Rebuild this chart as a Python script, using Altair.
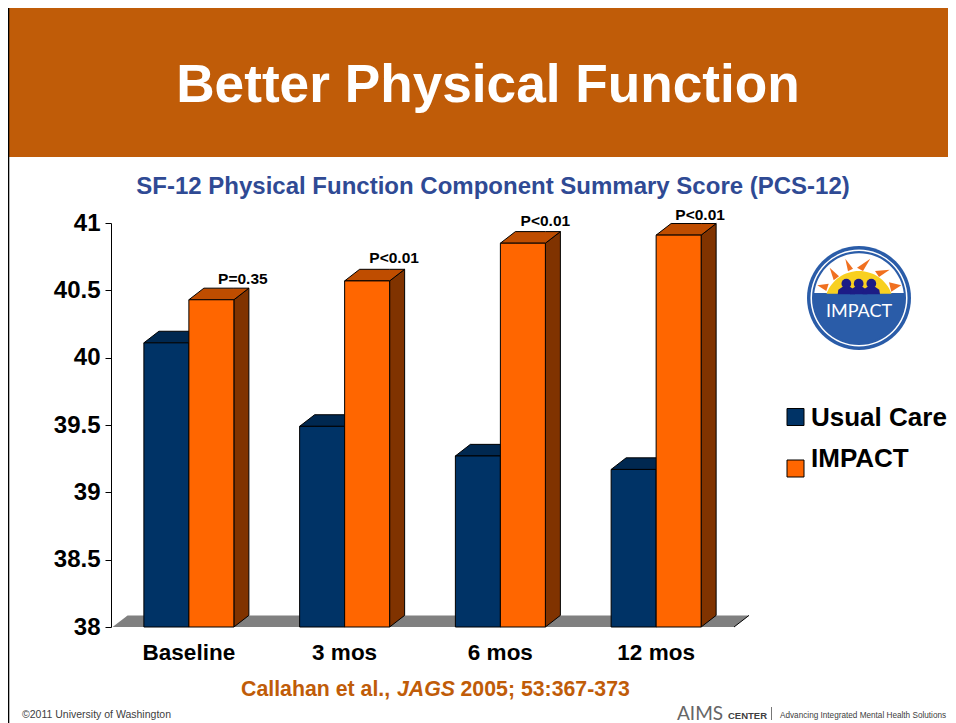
import altair as alt
import pandas as pd

categories = ["Baseline", "3 mos", "6 mos", "12 mos"]
usual_care = [40.11, 39.49, 39.27, 39.17]
impact = [40.43, 40.57, 40.85, 40.91]
p_labels = ["P=0.35", "P<0.01", "P<0.01", "P<0.01"]
y_ticks = [38, 38.5, 39, 39.5, 40, 40.5, 41]

# layout (page pixels)
OX, OY = 111, 223
W, H = 623, 404
PXU = W / 4
PYU = H / 3
BAR = 45 / PXU
DX = 15 / PXU
DY = 11.6 / PYU
FONT = "Liberation Sans"
CH_W, CH_H = 940, 715

NAVY, NAVY_TOP, NAVY_SIDE = "#003366", "#002850", "#001f40"
ORANGE, ORANGE_TOP, ORANGE_SIDE = "#FF6600", "#BF4D00", "#803300"

def one():
    return alt.Chart(alt.Data(values=[{"a": 1}]))

def px(x):
    return alt.value(x - OX)

def py(y):
    return alt.value(y - OY)

def text(s, x, y, size, color="black", bold=True, align="left", italic=False, font=FONT):
    kw = dict(text=s, fontSize=size, color=color, align=align, baseline="middle", font=font,
              fontWeight="bold" if bold else "normal", fontStyle="italic" if italic else "normal")
    return one().mark_text(**kw).encode(x=px(x), y=py(y))

def rect(x0, y0, x1, y1, color):
    return one().mark_rect(color=color).encode(x=px(x0), x2=px(x1), y=py(y0), y2=py(y1))

def shape(path, x, y, color):
    return one().mark_point(shape=path, size=4, filled=True, fill=color, stroke=None, opacity=1).encode(x=px(x), y=py(y))

def faces(values, off, top_col, side_col):
    rows = []
    for i, v in enumerate(values):
        x0 = i + 0.5 + off
        x1 = x0 + BAR
        t = f"t{i}"
        s = f"s{i}"
        rows += [
            dict(id=s, x=x1, y=v, y2=38, c=side_col),
            dict(id=s, x=x1 + DX, y=v + DY, y2=38 + DY, c=side_col),
            dict(id=t, x=x0, y=v, y2=v, c=top_col),
            dict(id=t, x=x0 + DX, y=v + DY, y2=v, c=top_col),
            dict(id=t, x=x1, y=v + DY, y2=v, c=top_col),
            dict(id=t, x=x1 + DX, y=v + DY, y2=v + DY, c=top_col),
        ]
    return alt.Chart(pd.DataFrame(rows)).mark_area(stroke="black", strokeWidth=1, interpolate="linear").encode(
        x=alt.X("x:Q", scale=alt.Scale(domain=[0, 4]), axis=None),
        y=alt.Y("y:Q"),
        y2="y2:Q",
        detail="id:N",
        fill=alt.Fill("c:N", scale=None),
    )

def fronts(values, off, col):
    df = pd.DataFrame({"x": [i + 0.5 + off for i in range(4)], "v": values})
    df["x2"] = df["x"] + BAR
    df["b"] = 38
    return alt.Chart(df).mark_rect(fill=col, stroke="black", strokeWidth=1).encode(
        x=alt.X("x:Q", scale=alt.Scale(domain=[0, 4]), axis=None), x2="x2:Q", y=alt.Y("v:Q"), y2="b:Q"
    )

# axis + floor
floor_df = pd.DataFrame({
    "x": [0.01, 0.01 + DX, 4, 4 + DX],
    "y": [38, 38 + DY, 38 + DY, 38 + DY],
    "y2": [38, 38, 38, 38 + DY],
})
floor = alt.Chart(floor_df).mark_area(color="#808080", interpolate="linear").encode(
    x=alt.X("x:Q", scale=alt.Scale(domain=[0, 4]), axis=None),
    y=alt.Y(
        "y:Q",
        scale=alt.Scale(domain=[38, 41], nice=False, zero=False),
        axis=alt.Axis(values=y_ticks, format="~g", title=None, grid=False, tickSize=6, tickColor="black",
                      domainColor="black", labelFont=FONT, labelFontWeight="bold", labelFontSize=24,
                      labelColor="black", labelPadding=5),
    ),
    y2="y2:Q",
)
floor_edge = alt.Chart(pd.DataFrame({"x": [4, 4 + DX], "y": [38, 38 + DY]})).mark_line(color="black", strokeWidth=1).encode(
    x=alt.X("x:Q", scale=alt.Scale(domain=[0, 4]), axis=None), y="y:Q")

cat_df = pd.DataFrame({"c": categories, "x": [i + 0.5 for i in range(4)]})
cat_text = alt.Chart(cat_df).mark_text(font=FONT, fontWeight="bold", fontSize=22.5, color="black", baseline="middle").encode(
    x=alt.X("x:Q", scale=alt.Scale(domain=[0, 4]), axis=None), y=py(653), text="c:N")

# P labels sit just above the bars, nudged by hand (pixels)
p_nudge_x = [31.5, 27, 22.5, 21.5]
p_nudge_y = [21, 23, 22, 20]
p_df = pd.DataFrame({
    "t": p_labels,
    "x": [i + 0.5 + BAR / 2 + n / PXU for i, n in enumerate(p_nudge_x)],
    "y": [v + n / PYU for v, n in zip(impact, p_nudge_y)],
})
p_text = alt.Chart(p_df).mark_text(font=FONT, fontWeight="bold", fontSize=15.5, color="black", baseline="middle").encode(
    x=alt.X("x:Q", scale=alt.Scale(domain=[0, 4]), axis=None), y="y:Q", text="t:N")

# logo
LX, LY = 859, 298
LB = "#2A5CA8"
def circ(r, color):
    return one().mark_arc(radius=r, theta=0, theta2=6.2832, color=color).encode(x=px(LX), y=py(LY))

def z(pts):
    # points from a zoomed sketch of the badge -> path relative to centre
    coords = [((a - 238) / 3, (b - 203) / 3) for a, b in pts]
    return "M" + " L".join(f"{a:.1f},{b:.1f}" for a, b in coords) + " Z"

rays = [
    [(113, 165), (147, 160), (140, 182)],
    [(150, 112), (178, 138), (162, 150)],
    [(197, 85), (220, 115), (205, 123)],
    [(272, 85), (250, 122), (232, 112)],
    [(330, 118), (298, 140), (286, 122)],
    [(365, 165), (335, 184), (328, 156)],
]
figure = [(-26, 192), (-24, 178), (-12, 170), (12, 170), (24, 178), (26, 192)]
logo = [
    circ(52, LB), circ(48.5, "white"), circ(47, LB), circ(45, LB),
    shape("M-44.7,-5 A45,45 0 0 1 44.7,-5 Z", LX, LY, "white"),
]
logo += [shape(z(r), LX, LY, "#F07020") for r in rays]
logo.append(shape("M-32.5,-4.3 A34.6,34.6 0 0 1 32.5,-4.3 Z", LX, LY, "#F8D020"))
for cx in (200, 237, 275):
    logo.append(shape(z([(cx + a, b) for a, b in figure]), LX, LY, "#1C1C86"))
    logo.append(one().mark_circle(size=95, color="#1C1C86", opacity=1).encode(x=px(LX + (cx - 238) / 3), y=py(LY + (160 - 203) / 3)))
logo.append(text("IMPACT", LX, 312, 18, "white", bold=False, align="center", font="Lato"))

legend = [
    one().mark_rect(fill=NAVY, stroke="black", strokeWidth=1).encode(x=px(787), x2=px(804), y=py(408.5), y2=py(425.5)),
    one().mark_rect(fill=ORANGE, stroke="black", strokeWidth=1).encode(x=px(787), x2=px(804), y=py(460), y2=py(477)),
    text("Usual Care", 811, 418, 26),
    text("IMPACT", 811, 459, 26),
]

deco = [
    rect(8, 8, 956, 157, "#C05C08"),
    rect(8, 8, 9.3, 723, "black"),
    text("Better Physical Function", 488, 86, 53.2, "white", align="center"),
    text("SF-12 Physical Function Component Summary Score (PCS-12)", 493, 187, 24, "#2F4A94", align="center"),
    text("Callahan et al.,", 241, 690, 21.3, "#C05C08"),
    text("JAGS", 397, 690, 21.3, "#C05C08", italic=True),
    text("2005; 53:367-373", 460.5, 690, 21.3, "#C05C08"),
    text("©2011 University of Washington", 22, 715, 10.5, "#404040", bold=False),
    text("AIMS", 677, 714, 19, "#666666", bold=False, font="Lato"),
    text("CENTER", 728, 716, 9.5, "#404040"),
    rect(771, 707, 772, 720, "#777777"),
    text("Advancing Integrated Mental Health Solutions", 780, 716, 8.2, "#404040", bold=False),
]

chart = alt.layer(
    *deco,
    floor, floor_edge,
    faces(usual_care, -BAR, NAVY_TOP, NAVY_SIDE),
    fronts(usual_care, -BAR, NAVY),
    faces(impact, 0, ORANGE_TOP, ORANGE_SIDE),
    fronts(impact, 0, ORANGE),
    cat_text, p_text,
    *logo, *legend,
).properties(
    width=W, height=H,
    autosize=alt.AutoSizeParams(type="none"),
    padding={"left": OX - 8, "top": OY - 8, "right": CH_W - (OX - 8) - W, "bottom": CH_H - (OY - 8) - H},
).configure_view(stroke=None)

chart.save("out.html", embed_options={"renderer": "svg", "actions": False})
